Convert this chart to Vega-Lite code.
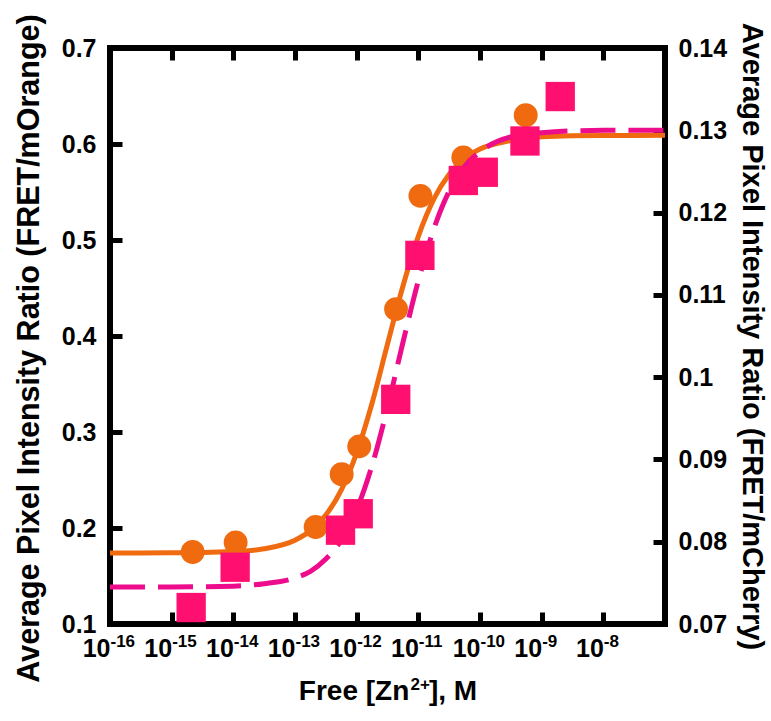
{
  "$schema": "https://vega.github.io/schema/vega-lite/v6.json",
  "autosize": {"type": "none"},
  "padding": {"left": 110, "top": 48, "right": 106, "bottom": 97},
  "width": 555,
  "height": 576,
  "background": "white",
  "config": {
    "view": {"stroke": "black", "strokeWidth": 6},
    "axis": {
      "grid": false,
      "domain": false,
      "ticks": true,
      "tickColor": "black",
      "tickWidth": 5,
      "tickSize": 12,
      "offset": -12,
      "labelFont": "Liberation Sans",
      "labelFontWeight": "bold",
      "labelFontSize": 25,
      "labelColor": "black",
      "labelOverlap": false,
      "labelFlush": false,
      "titleFont": "Liberation Sans",
      "titleFontWeight": "bold",
      "titleFontSize": 30,
      "titleColor": "black"
    }
  },
  "datasets": {
    "orangePts": [
      {"zn": 2.19e-15, "ratio": 0.175},
      {"zn": 1.09e-14, "ratio": 0.185},
      {"zn": 2.16e-13, "ratio": 0.201},
      {"zn": 5.71e-13, "ratio": 0.256},
      {"zn": 1.10e-12, "ratio": 0.285},
      {"zn": 4.35e-12, "ratio": 0.428},
      {"zn": 1.08e-11, "ratio": 0.546},
      {"zn": 5.36e-11, "ratio": 0.586},
      {"zn": 5.51e-10, "ratio": 0.630}
    ],
    "orangeFit": [
      {"zn": 1e-16, "ratio": 0.174},
      {"zn": 1e-15, "ratio": 0.1741},
      {"zn": 1e-14, "ratio": 0.1754},
      {"zn": 3.16e-14, "ratio": 0.1783},
      {"zn": 1e-13, "ratio": 0.1873},
      {"zn": 1.78e-13, "ratio": 0.1971},
      {"zn": 3.16e-13, "ratio": 0.2135},
      {"zn": 5.62e-13, "ratio": 0.2395},
      {"zn": 1e-12, "ratio": 0.2783},
      {"zn": 1.78e-12, "ratio": 0.3302},
      {"zn": 3.16e-12, "ratio": 0.3915},
      {"zn": 5.62e-12, "ratio": 0.4518},
      {"zn": 1e-11, "ratio": 0.5037},
      {"zn": 1.78e-11, "ratio": 0.5425},
      {"zn": 3.16e-11, "ratio": 0.5685},
      {"zn": 5.62e-11, "ratio": 0.5849},
      {"zn": 1e-10, "ratio": 0.5947},
      {"zn": 3.16e-10, "ratio": 0.6036},
      {"zn": 1e-9, "ratio": 0.6076},
      {"zn": 1e-8, "ratio": 0.6089},
      {"zn": 1e-7, "ratio": 0.609}
    ],
    "pinkPts": [
      {"zn": 2.07e-15, "ratio": 0.0720},
      {"zn": 1.07e-14, "ratio": 0.0769},
      {"zn": 5.47e-13, "ratio": 0.0814},
      {"zn": 1.06e-12, "ratio": 0.0834},
      {"zn": 4.30e-12, "ratio": 0.0973},
      {"zn": 1.06e-11, "ratio": 0.1148},
      {"zn": 5.36e-11, "ratio": 0.1239},
      {"zn": 1.13e-10, "ratio": 0.1249},
      {"zn": 5.36e-10, "ratio": 0.1287},
      {"zn": 2.00e-9, "ratio": 0.1341}
    ],
    "pinkFit": [
      {"zn": 1e-16, "ratio": 0.0745},
      {"zn": 1e-15, "ratio": 0.0745},
      {"zn": 1e-14, "ratio": 0.0746},
      {"zn": 3.16e-14, "ratio": 0.0749},
      {"zn": 1e-13, "ratio": 0.0756},
      {"zn": 1.78e-13, "ratio": 0.0764},
      {"zn": 3.16e-13, "ratio": 0.0779},
      {"zn": 5.62e-13, "ratio": 0.0802},
      {"zn": 1e-12, "ratio": 0.0839},
      {"zn": 1.78e-12, "ratio": 0.0893},
      {"zn": 3.16e-12, "ratio": 0.0963},
      {"zn": 5.62e-12, "ratio": 0.1042},
      {"zn": 1e-11, "ratio": 0.1117},
      {"zn": 1.78e-11, "ratio": 0.118},
      {"zn": 3.16e-11, "ratio": 0.1226},
      {"zn": 5.62e-11, "ratio": 0.1256},
      {"zn": 1e-10, "ratio": 0.1274},
      {"zn": 3.16e-10, "ratio": 0.1292},
      {"zn": 1e-9, "ratio": 0.1297},
      {"zn": 1e-8, "ratio": 0.13},
      {"zn": 1e-7, "ratio": 0.13}
    ],
    "xExp": [
      {"zn": 1e-16},
      {"zn": 1e-8}
    ]
  },
  "layer": [
    {
      "encoding": {
        "x": {
          "field": "zn", "type": "quantitative",
          "scale": {"type": "log", "domain": [1e-16, 1e-7], "nice": false},
          "axis": {
            "orient": "bottom",
            "values": [1e-16, 1e-15, 1e-14, 1e-13, 1e-12, 1e-11, 1e-10, 1e-9, 1e-8],
            "labelExpr": "'10'",
            "labelAlign": "right",
            "labelDx": 8,
            "labelFontSize": 25,
            "labelPadding": 12,
            "title": "Free [Zn\u2002\u2009], M",
            "titleFontSize": 28,
            "titlePadding": 16
          }
        },
        "y": {
          "field": "ratio", "type": "quantitative",
          "scale": {"domain": [0.1, 0.7], "zero": false, "nice": false},
          "axis": {
            "orient": "left",
            "values": [0.1, 0.2, 0.3, 0.4, 0.5, 0.6, 0.7],
            "format": ".1f",
            "labelPadding": 14,
            "title": "Average Pixel Intensity Ratio (FRET/mOrange)",
            "titleFontSize": 30.5,
            "titleY": 300,
            "titlePadding": 17
          }
        }
      },
      "layer": [
        {
          "data": {"name": "orangeFit"},
          "mark": {"type": "line", "color": "#F06A10", "strokeWidth": 5, "interpolate": "monotone"}
        },
        {
          "data": {"name": "orangePts"},
          "mark": {"type": "point", "shape": "circle", "filled": true, "color": "#F06A10", "opacity": 1, "size": 570}
        }
      ]
    },
    {
      "encoding": {
        "x": {
          "field": "zn", "type": "quantitative",
          "scale": {"type": "log", "domain": [1e-16, 1e-7], "nice": false},
          "axis": {
            "orient": "top",
            "values": [1e-16, 1e-15, 1e-14, 1e-13, 1e-12, 1e-11, 1e-10, 1e-9, 1e-8],
            "labels": false,
            "title": null
          }
        },
        "y": {
          "field": "ratio", "type": "quantitative",
          "scale": {"domain": [0.07, 0.14], "zero": false, "nice": false},
          "axis": {
            "orient": "right",
            "values": [0.07, 0.08, 0.09, 0.1, 0.11, 0.12, 0.13, 0.14],
            "format": "~f",
            "labelPadding": 13,
            "title": "Average Pixel Intensity Ratio (FRET/mCherry)",
            "titleFontSize": 29,
            "titlePadding": 10
          }
        }
      },
      "layer": [
        {
          "data": {"name": "pinkFit"},
          "mark": {"type": "line", "color": "#EC0C8C", "strokeWidth": 5, "strokeDash": [35, 13], "interpolate": "monotone"}
        },
        {
          "data": {"name": "pinkPts"},
          "mark": {"type": "point", "shape": "square", "filled": true, "color": "#FF1070", "opacity": 1, "size": 860}
        }
      ]
    },
    {
      "data": {"name": "xExp"},
      "mark": {"type": "point", "opacity": 0},
      "encoding": {
        "x": {
          "field": "zn", "type": "quantitative",
          "scale": {"type": "log", "domain": [1e-16, 1e-7], "nice": false},
          "axis": {
            "orient": "bottom",
            "offset": 0,
            "ticks": false,
            "tickSize": 0,
            "values": [1e-16, 1e-15, 1e-14, 1e-13, 1e-12, 1e-11, 1e-10, 1e-9, 1e-8],
            "labelExpr": "'-' + round(-log(datum.value)/LN10)",
            "labelAlign": "left",
            "labelDx": 9,
            "labelFontSize": 17,
            "labelPadding": 9,
            "title": "2+",
            "titleFontSize": 17,
            "titleAngle": 0,
            "titleAlign": "left",
            "titleBaseline": "alphabetic",
            "titleX": 300,
            "titleY": 65
          }
        }
      }
    }
  ],
  "resolve": {"scale": {"y": "independent"}, "axis": {"x": "independent", "y": "independent"}}
}
